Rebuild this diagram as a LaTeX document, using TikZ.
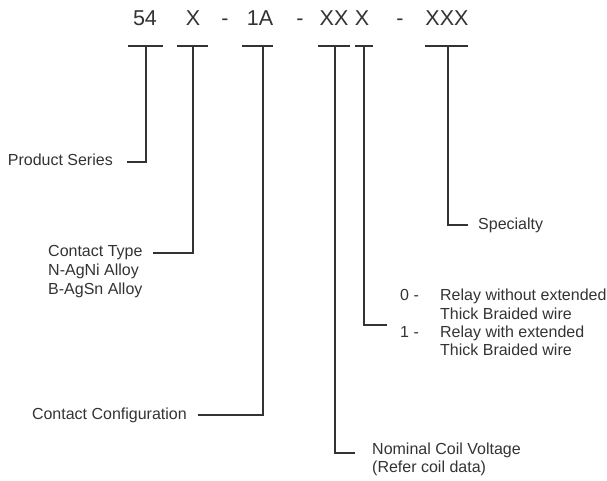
\documentclass[tikz,border=0pt]{standalone}
\usepackage{fontspec}
\setmainfont{Liberation Sans}
\definecolor{ink}{RGB}{51,51,51}
\begin{document}
\begin{tikzpicture}[x=1pt,y=-1pt,
  code/.style={inner sep=0pt, font=\fontsize{21.5}{26}\selectfont, text=ink, anchor=base},
  lbl/.style={inner sep=0pt, font=\fontsize{16}{19}\selectfont, text=ink, align=left},
  wire/.style={draw=ink, line width=2pt},
]
\useasboundingbox (0,0) rectangle (607,481);
% code letters
\node[code] (c54)  at (145,26) {54};
\node[code] (cX)   at (193,26) {X};
\node[code] (d1)   at (225,26) {-};
\node[code] (c1A)  at (260,26) {1A};
\node[code] (d2)   at (300,26) {-};
\node[code] (cXX)  at (334,26) {XX};
\node[code] (cX2)  at (362,26) {X};
\node[code] (d3)   at (400,26) {-};
\node[code] (cXXX) at (447,26) {XXX};
% stem tops
\coordinate (t1) at (146,46);
\coordinate (t2) at (193,46);
\coordinate (t3) at (263,46);
\coordinate (t4) at (335,46);
\coordinate (t5) at (364,46);
\coordinate (t6) at (448,46);
% T bars
\draw[wire] (128,46) -- (163,46);
\draw[wire] (177,46) -- (208,46);
\draw[wire] (242,46) -- (273,46);
\draw[wire] (318,46) -- (350,46);
\draw[wire] (355,46) -- (373,46);
\draw[wire] (425,46) -- (468,46);
% labels
\node[lbl, anchor=east] (ps) at (113,160) {Product Series};
\node[lbl, anchor=west] (ct) at (48,272) {Contact Type\\N-AgNi Alloy\\B-AgSn Alloy};
\node[lbl, anchor=east] (cc) at (187,415) {Contact Configuration};
\node[lbl, anchor=west, font=\fontsize{16}{18}\selectfont] (nom) at (372,459) {Nominal Coil Voltage\\(Refer coil data)};
\node[lbl, anchor=west, font=\fontsize{16}{18.3}\selectfont] (rel) at (400,324.5) {\begin{tabular}{@{}l@{\hspace{21.3pt}}l@{}}0 - & Relay without extended\\ & Thick Braided wire\\ 1 - & Relay with extended\\ & Thick Braided wire\end{tabular}};
\node[lbl, anchor=west] (sp) at (478,225) {Specialty};
% connectors
\draw[wire] (t1) |- ([xshift=14pt,yshift=-2pt]ps.east);
\draw[wire] (t2) |- ([xshift=10pt,yshift=19pt]ct.east);
\draw[wire] (t3) |- ([xshift=11pt]cc.east);
\draw[wire] (t4) |- ([xshift=-17pt,yshift=6pt]nom.west);
\draw[wire] (t5) |- ([xshift=-13pt]rel.west);
\draw[wire] (t6) |- ([xshift=-10pt]sp.west);
\end{tikzpicture}
\end{document}
